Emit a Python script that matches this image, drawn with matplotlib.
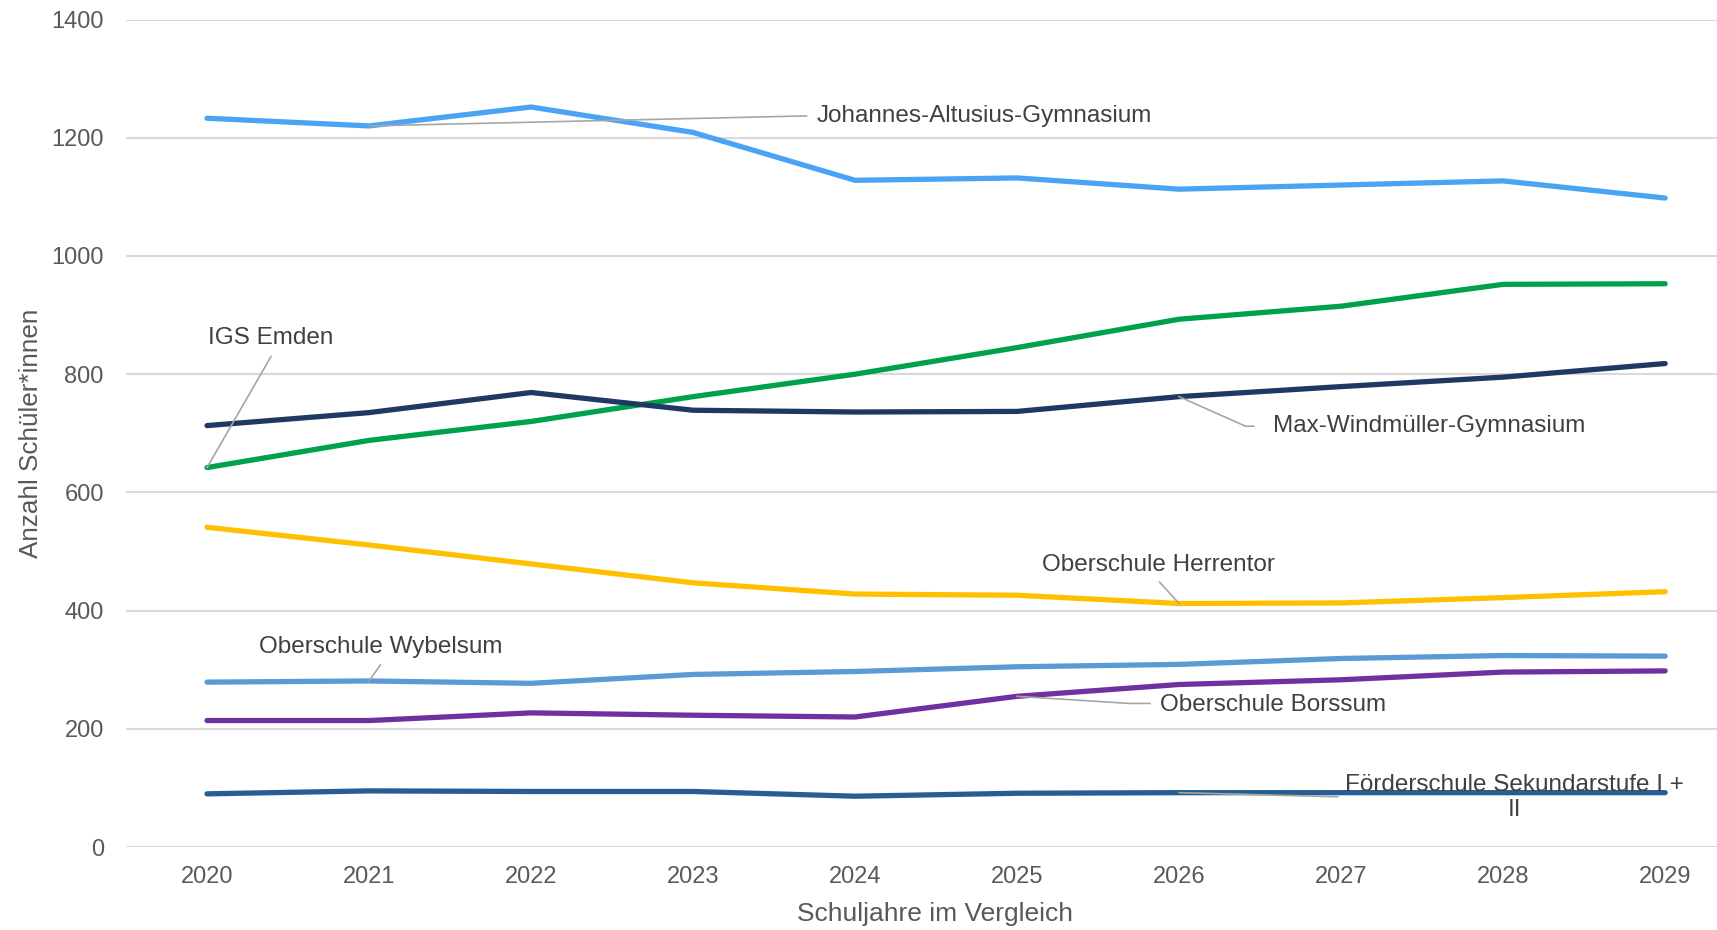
import matplotlib.pyplot as plt
import numpy as np

plt.rcParams['font.family'] = ['Liberation Sans', 'DejaVu Sans']

# Schuljahre
years = ["2020", "2021", "2022", "2023", "2024", "2025", "2026", "2027", "2028", "2029"]

# student counts per school
altusius = [1233, 1220, 1252, 1209, 1128, 1132, 1113, 1120, 1127, 1098]
igs = [642, 688, 720, 762, 800, 845, 893, 915, 952, 953]
windmueller = [713, 735, 769, 739, 736, 737, 762, 779, 795, 818]
herrentor = [541, 511, 479, 447, 428, 426, 412, 413, 422, 432]
wybelsum = [279, 281, 277, 292, 297, 305, 309, 319, 324, 323]
borssum = [214, 214, 227, 223, 220, 255, 275, 283, 296, 298]
foerder = [90, 95, 94, 94, 86, 91, 92, 92, 92, 92]

series = [
    ("Johannes-Altusius-Gymnasium", altusius, "#4BA3F5"),
    ("IGS Emden", igs, "#00A14B"),
    ("Max-Windmüller-Gymnasium", windmueller, "#1F3864"),
    ("Oberschule Herrentor", herrentor, "#FFC000"),
    ("Oberschule Wybelsum", wybelsum, "#5B9BD5"),
    ("Oberschule Borssum", borssum, "#7030A0"),
    ("Förderschule Sekundarstufe I +\nII", foerder, "#255E91"),
]

# label placement: (leader path in data coords, text position, alignment)
labels = [
    ([(1, 1220), (3.70, 1237)], (3.76, 1237), "left"),
    ([(0, 642), (0.395, 830)], (0.39, 861), "center"),
    ([(6, 762), (6.41, 712), (6.46, 712)], (6.58, 712), "left"),
    ([(6, 412), (5.88, 448)], (5.87, 477), "center"),
    ([(1, 281), (1.07, 308)], (1.07, 339), "center"),
    ([(5, 255), (5.69, 243), (5.82, 243)], (5.88, 240), "left"),
    ([(6, 92), (6.98, 85)], (8.07, 84), "center"),
]

fig = plt.figure(figsize=(17.17, 9.30), dpi=100)
ax = fig.add_axes([0.0734, 0.0892, 0.9266, 0.8898])

x = np.arange(len(years))
for name, vals, col in series:
    ax.plot(x, vals, color=col, linewidth=3.8, solid_capstyle="round",
            solid_joinstyle="round", zorder=3)

for (name, vals, col), (path, pos, ha) in zip(series, labels):
    px, py = zip(*path)
    ax.plot(px, py, color="#A6A6A6", linewidth=1.2, zorder=4)
    ax.text(pos[0], pos[1], name, ha=ha, va="center", fontsize=17.5,
            color="#404040", zorder=5, linespacing=1.15)

ax.set_xlim(-0.5, 9.32)
ax.set_ylim(0, 1400)
ax.set_xticks(x)
ax.set_xticklabels(years)
ax.set_yticks(np.arange(0, 1401, 200))
ax.tick_params(length=0, labelsize=17, labelcolor="#595959")
ax.tick_params(axis="y", pad=16)
ax.tick_params(axis="x", pad=14)
ax.grid(axis="y", color="#D9D9D9", linewidth=1.5)
ax.set_axisbelow(True)
for s in ax.spines.values():
    s.set_visible(False)

ax.set_xlabel("Schuljahre im Vergleich", fontsize=19, color="#595959")
ax.xaxis.set_label_coords(0.5085, -0.066)
ax.set_ylabel("Anzahl Schüler*innen", fontsize=18.8, color="#595959")
ax.yaxis.set_label_coords(-0.0525, 0.5)

fig.savefig("out.png", dpi=100)
